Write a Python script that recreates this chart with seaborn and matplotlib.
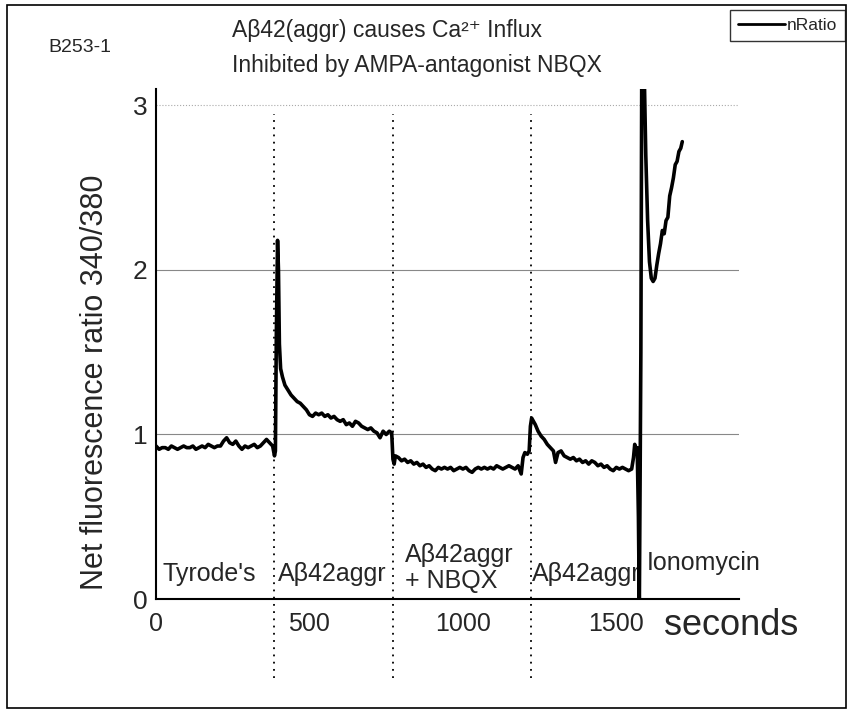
import numpy as np
import pandas as pd
import seaborn as sns
import matplotlib.pyplot as plt
from matplotlib.patches import Rectangle

# trace (seconds, 340/380 ratio)
time_s = [0, 10, 20, 30, 40, 50, 60, 70, 80, 90, 100, 110, 120, 130, 140, 150, 160, 170, 180, 190,
          200, 210, 220, 230, 240, 250, 260, 270, 280, 290, 300, 310, 320, 330, 340, 350, 360, 370, 380,
          386, 389, 392, 396, 399, 402, 406, 412, 420, 430, 440, 450, 460, 470, 480, 490, 500, 510,
          520, 530, 540, 550, 560, 570, 580, 590, 600, 610, 620, 630, 640, 650, 660, 670, 680, 690,
          700, 710, 720, 730, 740, 750, 760, 768, 772, 776, 780, 790, 800, 810, 820, 830, 840, 850,
          860, 870, 880, 890, 900, 910, 920, 930, 940, 950, 960, 970, 980, 990, 1000, 1010, 1020,
          1030, 1040, 1050, 1060, 1070, 1080, 1090, 1100, 1110, 1120, 1130, 1140, 1150, 1160, 1170,
          1180, 1190, 1196, 1202, 1210, 1216, 1220, 1224, 1230, 1236, 1245, 1255, 1265, 1275, 1285,
          1295, 1302, 1310, 1320, 1330, 1340, 1350, 1360, 1370, 1380, 1390, 1400, 1410, 1420, 1430,
          1440, 1450, 1460, 1470, 1480, 1490, 1500, 1510, 1520, 1530, 1540, 1550, 1556, 1560, 1564,
          1568, 1572, 1575, 1580, 1583, 1590, 1596, 1602, 1608, 1614, 1620, 1626, 1632, 1638, 1644,
          1650, 1656, 1662, 1668, 1674, 1680, 1686, 1692, 1698, 1704, 1710, 1715]
ratio = [0.93, 0.91, 0.92, 0.92, 0.91, 0.93, 0.92, 0.91, 0.92, 0.93, 0.92, 0.92, 0.93, 0.91, 0.92,
         0.93, 0.92, 0.94, 0.93, 0.92, 0.93, 0.93, 0.96, 0.98, 0.95, 0.94, 0.96, 0.93, 0.91, 0.93,
         0.92, 0.93, 0.94, 0.92, 0.93, 0.95, 0.97, 0.95, 0.93,
         0.87, 0.90, 1.60, 2.18, 2.00, 1.55, 1.40, 1.35, 1.30, 1.27, 1.24, 1.22, 1.20, 1.19, 1.17,
         1.15, 1.12, 1.11, 1.13, 1.12, 1.13, 1.11, 1.12, 1.10, 1.11, 1.09, 1.08, 1.09, 1.06, 1.07,
         1.05, 1.08, 1.07, 1.05, 1.04, 1.03, 1.04, 1.02, 1.01, 0.98, 1.02, 1.00, 1.02, 1.01, 0.85,
         0.82, 0.87, 0.86, 0.84, 0.85, 0.83, 0.84, 0.82, 0.83, 0.81, 0.82, 0.80, 0.81, 0.79, 0.78,
         0.80, 0.79, 0.80, 0.79, 0.80, 0.78, 0.79, 0.80, 0.79, 0.80, 0.78, 0.77, 0.79, 0.80, 0.79,
         0.80, 0.79, 0.80, 0.79, 0.81, 0.80, 0.79, 0.80, 0.81, 0.80, 0.79, 0.81, 0.76, 0.86, 0.89,
         0.88, 0.90, 1.05, 1.10, 1.08, 1.06, 1.02, 0.99, 0.97, 0.94, 0.92, 0.90, 0.83, 0.89, 0.90,
         0.87, 0.86, 0.85, 0.86, 0.84, 0.85, 0.83, 0.84, 0.82, 0.84, 0.83, 0.81, 0.82, 0.80, 0.81,
         0.79, 0.78, 0.80, 0.79, 0.80, 0.79, 0.78, 0.79, 0.86, 0.94, 0.88, 0.92, 0.50, -0.05, 1.50,
         3.30, 3.30, 2.70, 2.30, 2.05, 1.95, 1.93, 1.95, 2.03, 2.10, 2.16, 2.24, 2.22, 2.30, 2.32,
         2.45, 2.50, 2.56, 2.64, 2.66, 2.72, 2.74, 2.78]

# solution changes (s) and their labels
switch_s = [385, 772, 1222]
phase_x = [22, 398, 812, 1226, 1600]
phase_y = [0.15, 0.15, 0.19, 0.15, 0.22]
phase_labels = ["Tyrode's", "Aβ42aggr", "Aβ42aggr\n+ NBQX", "Aβ42aggr", "Ionomycin"]

df = pd.DataFrame({"seconds": time_s, "nRatio": ratio})

sns.set_style("white")
plt.rcParams['font.family'] = ['Liberation Sans', 'DejaVu Sans']

fig = plt.figure(figsize=(8.55, 7.16), dpi=100)
ax = fig.add_axes([0.1825, 0.1634, 0.6819, 0.7123])

# grid lines like the original
ax.axhline(1, color='#888888', lw=0.8, zorder=1)
ax.axhline(2, color='#888888', lw=0.8, zorder=1)
ax.axhline(3, color='#aaaaaa', lw=0.8, ls=':', zorder=1)

ax.vlines(switch_s, -0.48, 2.95, colors='black', linestyles=(0, (1, 3)), lw=1.3,
          clip_on=False, zorder=2)

for x, y, s in zip(phase_x, phase_y, phase_labels):
    ax.text(x, y, s, fontsize=18, ha='left', va='center', linespacing=1.1, zorder=2)

sns.lineplot(data=df, x="seconds", y="nRatio", color='black', lw=2.6, ax=ax,
             label="nRatio", legend=False, zorder=4)

ax.set_xlim(0, 1900)
ax.set_ylim(0, 3.1)
ax.set_xticks([0, 500, 1000, 1500])
ax.set_xticks([250, 750, 1250, 1750], minor=True)
ax.set_yticks([0, 1, 2, 3])
ax.set_yticks([0.5, 1.5, 2.5], minor=True)
ax.tick_params(axis='x', which='major', direction='inout', length=10, width=1.3,
               labelsize=18, pad=4)
ax.tick_params(axis='x', which='minor', direction='in', length=5, width=1.3)
ax.tick_params(axis='y', which='major', direction='out', length=5, width=1.3,
               labelsize=19, pad=1)
ax.tick_params(axis='y', which='minor', direction='out', length=4, width=1.3)
ax.set_xlabel("")
ax.set_ylabel("")
for side in ['top', 'right']:
    ax.spines[side].set_visible(False)
for side in ['left', 'bottom']:
    ax.spines[side].set_linewidth(1.5)
    ax.spines[side].set_color('black')

ax.text(1655, -0.16, "seconds", fontsize=26, ha='left', va='center')
fig.text(0.111, 0.466, "Net fluorescence ratio 340/380", rotation=90, fontsize=22,
         ha='center', va='center')

fig.text(0.271, 0.957, "Aβ42(aggr) causes Ca²⁺ Influx", fontsize=16.5, ha='left', va='center')
fig.text(0.271, 0.908, "Inhibited by AMPA-antagonist NBQX", fontsize=16.5, ha='left', va='center')
fig.text(0.056, 0.933, "B253-1", fontsize=14, ha='left', va='center')

leg = fig.legend(*ax.get_legend_handles_labels(), loc='upper right',
                 bbox_to_anchor=(0.988, 0.986), borderaxespad=0,
                 fontsize=12.5, frameon=True, fancybox=False,
                 handlelength=2.7, handletextpad=0.1, borderpad=0.45)
leg.get_frame().set_edgecolor('black')
leg.get_frame().set_linewidth(1.0)
leg.get_lines()[0].set_linewidth(2.0)

fig.patches.append(Rectangle((0.008, 0.011), 0.982, 0.982, transform=fig.transFigure,
                             fill=False, edgecolor='black', lw=1.2))

fig.savefig("out.png", dpi=100)
